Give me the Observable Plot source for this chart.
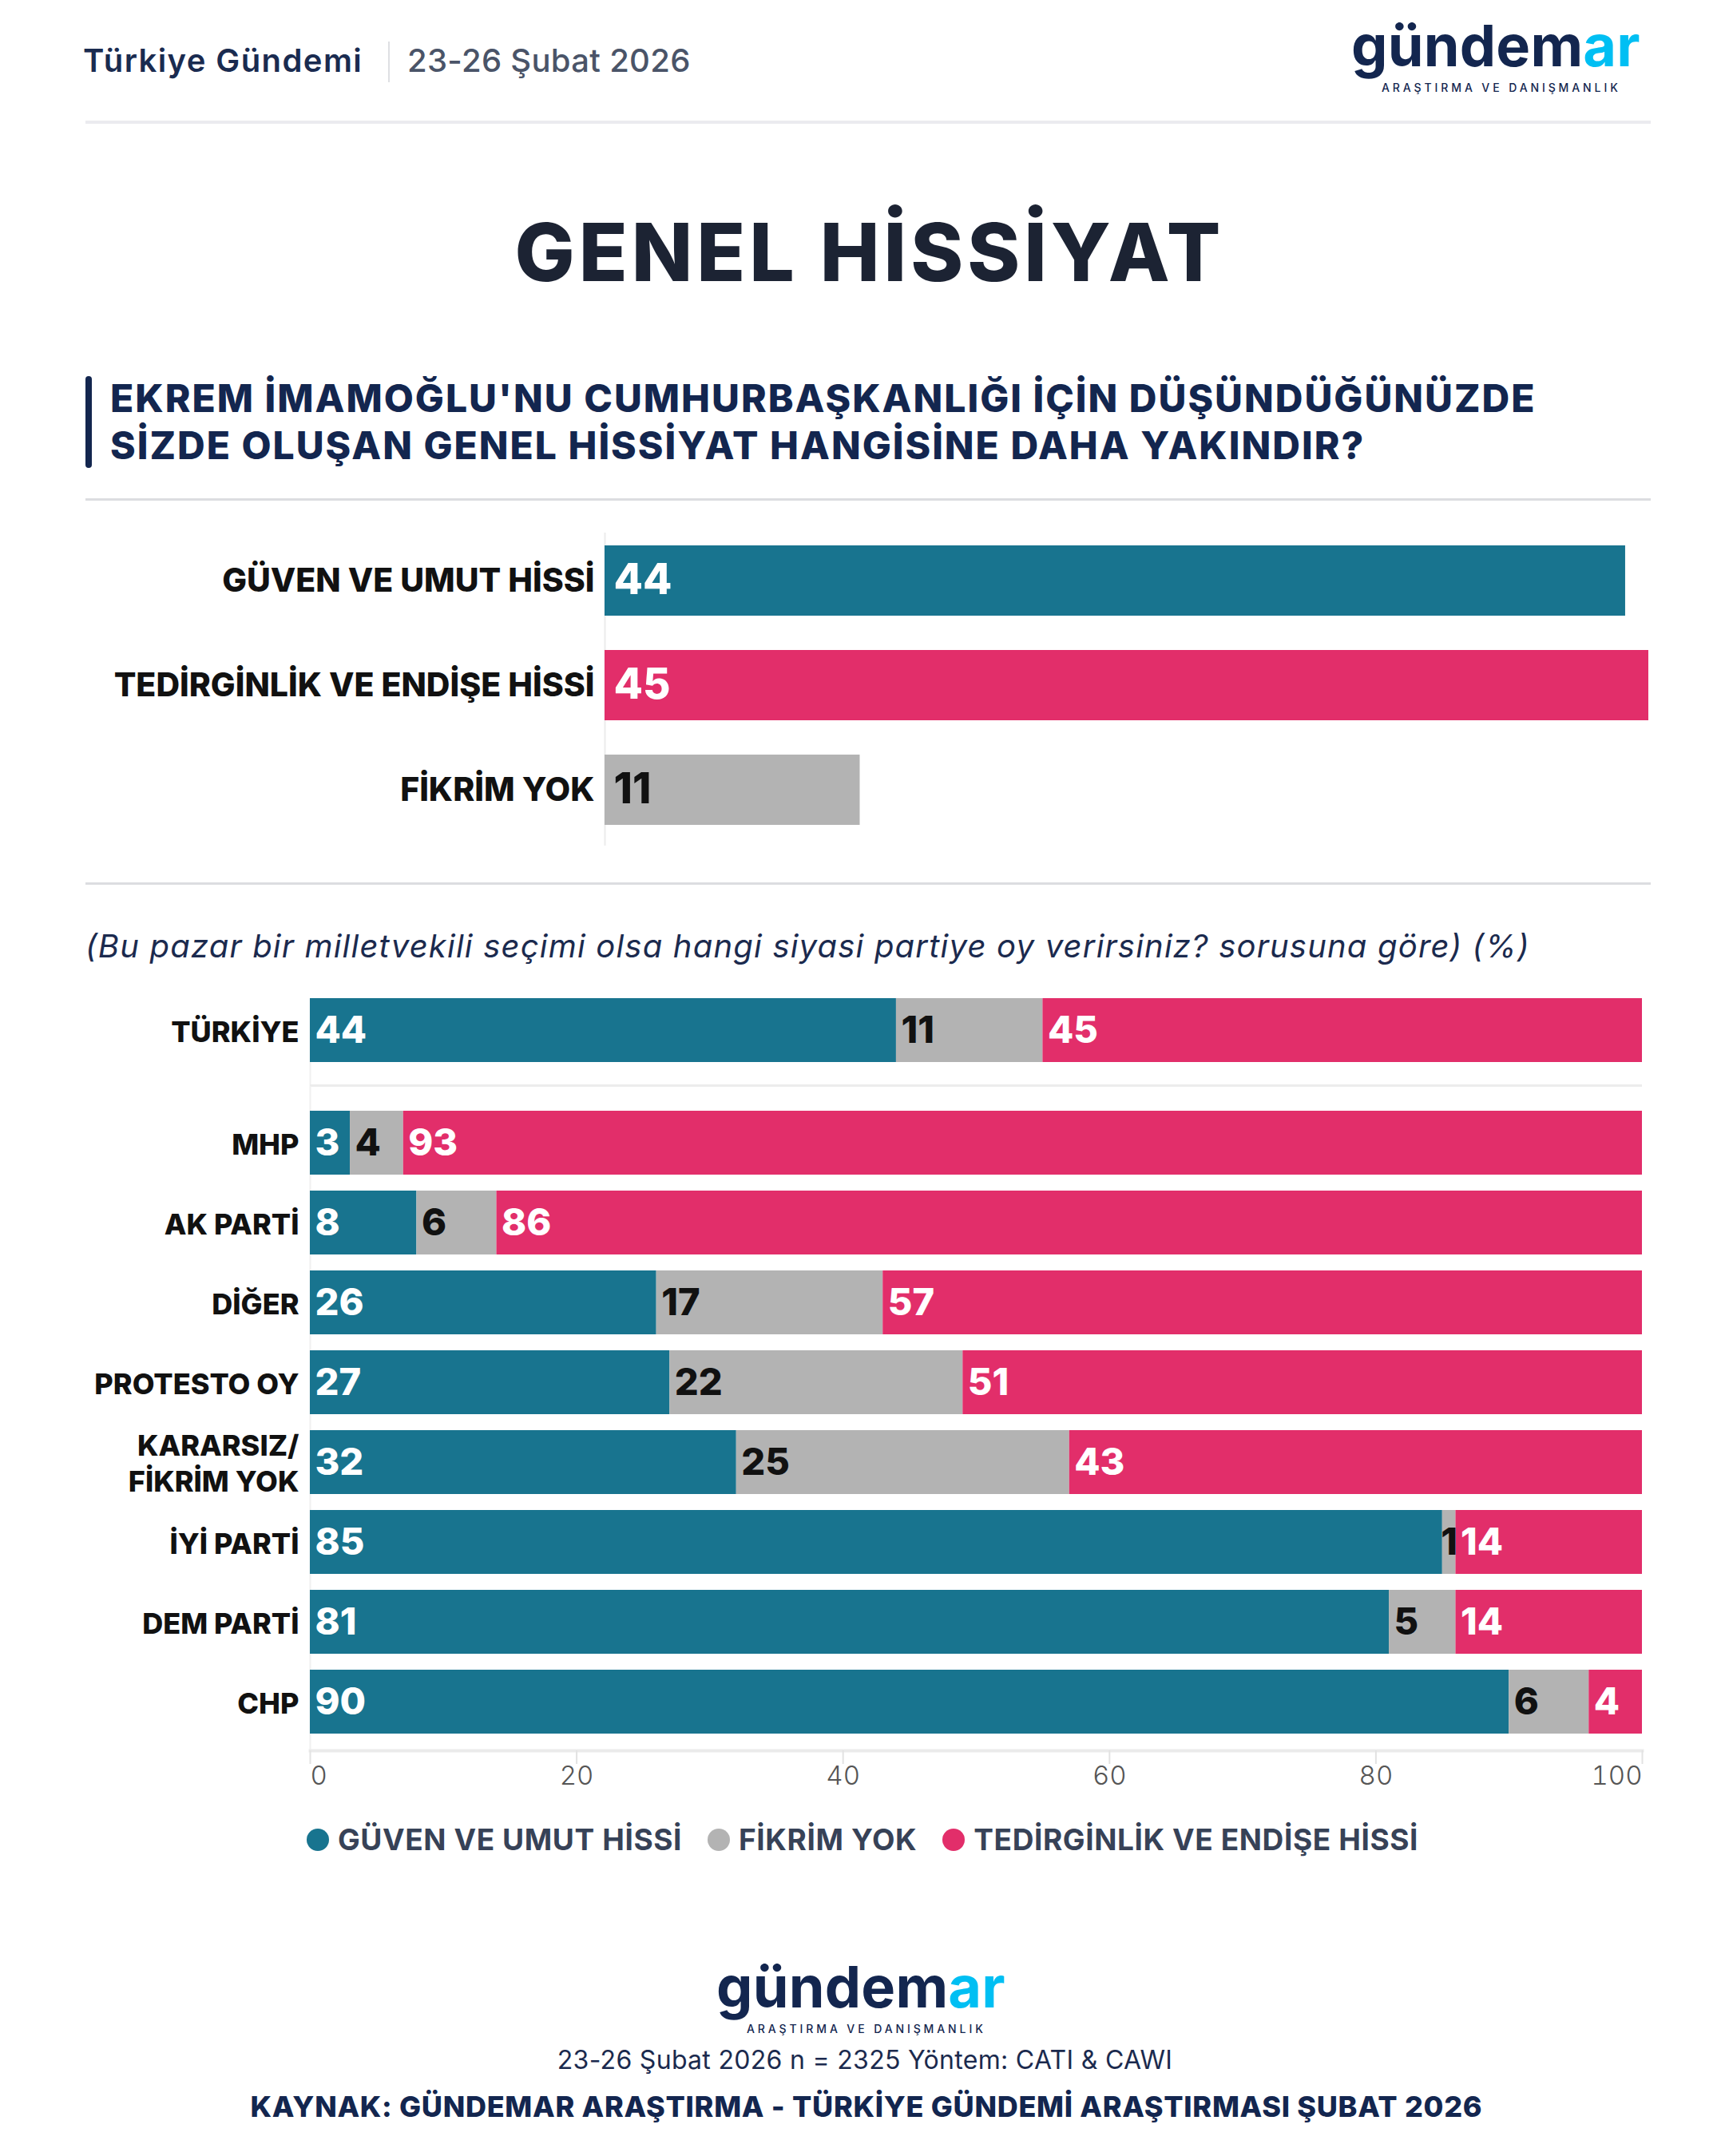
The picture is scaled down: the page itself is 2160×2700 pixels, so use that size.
<!DOCTYPE html>
<html><head><meta charset="utf-8">
<script src="https://cdn.jsdelivr.net/npm/d3@7"></script>
<script src="https://cdn.jsdelivr.net/npm/@observablehq/plot@0.6"></script>
<style>
html,body{margin:0;padding:0;background:#fff;}
#page{position:relative;width:2160px;height:2700px;overflow:hidden;font-family:Inter,"Open Sans",sans-serif;background:#fff;}
.abs{position:absolute;}
.logo{position:absolute;color:#13264f;}
.logo .word{font-family:Inter,sans-serif;font-weight:700;font-size:72px;letter-spacing:0.2px;line-height:1;}
.logo .ar{color:#00bff3;}
.logo .sub{font-family:Inter,sans-serif;font-weight:500;font-size:14px;letter-spacing:3.9px;white-space:nowrap;line-height:1;}
#legend{position:absolute;left:0;width:2160px;top:2281px;display:flex;justify-content:center;align-items:center;font-family:Inter,sans-serif;font-weight:700;font-size:37px;letter-spacing:0.6px;color:#374257;}
#legend .item{display:flex;align-items:center;margin:0 16px;}
#legend .dot{width:28px;height:28px;border-radius:50%;margin-right:11px;}
</style></head><body><div id="page"></div>
<script>
// ---------- data ----------
const feelings = ["GÜVEN VE UMUT HİSSİ", "TEDİRGİNLİK VE ENDİŞE HİSSİ", "FİKRİM YOK"];
const feelingValues = [44, 45, 11];
const stackOrder = ["GÜVEN VE UMUT HİSSİ", "FİKRİM YOK", "TEDİRGİNLİK VE ENDİŞE HİSSİ"];
const seriesColors = ["#18748f", "#b3b3b3", "#e22e6a"];
const totalRow = ["TÜRKİYE"];
const totalGuven = [44];
const totalFikrim = [11];
const totalTedirgin = [45];
const parties = ["MHP", "AK PARTİ", "DİĞER", "PROTESTO OY", "KARARSIZ/\nFİKRİM YOK", "İYİ PARTİ", "DEM PARTİ", "CHP"];
const guven = [3, 8, 26, 27, 32, 85, 81, 90];
const fikrimYok = [4, 6, 17, 22, 25, 1, 5, 6];
const tedirgin = [93, 86, 57, 51, 43, 14, 14, 4];
const xTicks = [0, 20, 40, 60, 80, 100];

const headerLeft = "Türkiye Gündemi";
const headerDate = "23-26 Şubat 2026";
const title = "GENEL HİSSİYAT";
const questionLines = ["EKREM İMAMOĞLU'NU CUMHURBAŞKANLIĞI İÇİN DÜŞÜNDÜĞÜNÜZDE", "SİZDE OLUŞAN GENEL HİSSİYAT HANGİSİNE DAHA YAKINDIR?"];
const subtitle = "(Bu pazar bir milletvekili seçimi olsa hangi siyasi partiye oy verirsiniz? sorusuna göre) (%)";
const footerMeta = "23-26 Şubat 2026 n = 2325 Yöntem: CATI & CAWI";
const footerSource = "KAYNAK: GÜNDEMAR ARAŞTIRMA - TÜRKİYE GÜNDEMİ ARAŞTIRMASI ŞUBAT 2026";

// ---------- page ----------
const page = d3.select("#page");
const NAVY = "#13264f";
const FONT = "Inter, 'Open Sans', sans-serif";

const ov = page.append("svg").attr("class","abs").attr("width",2160).attr("height",2700)
  .style("left","0px").style("top","0px").style("font-family",FONT);
ov.append("text").attr("x",104).attr("y",90).attr("font-size",40).attr("font-weight",600).attr("letter-spacing",1.4).attr("fill","#1a2b50").text(headerLeft);
ov.append("rect").attr("x",486).attr("y",52).attr("width",2).attr("height",51).attr("fill","#dedfe3");
ov.append("text").attr("x",510).attr("y",90).attr("font-size",40).attr("font-weight",500).attr("letter-spacing",0.3).attr("fill","#4a5468").text(headerDate);
ov.append("rect").attr("x",107).attr("y",151).attr("width",1960).attr("height",4).attr("fill","#ebebef");
ov.append("text").attr("x",1089).attr("y",352).attr("text-anchor","middle").attr("font-size",100).attr("font-weight",800).attr("letter-spacing",5).attr("fill","#1c2333").text(title);
ov.append("rect").attr("x",107).attr("y",471).attr("width",8).attr("height",115).attr("rx",4).attr("fill",NAVY);
questionLines.forEach((l,i)=>{
  ov.append("text").attr("x",138).attr("y",516+i*59).attr("font-size",48).attr("font-weight",800).attr("letter-spacing",2).attr("fill",NAVY).text(l);
});
ov.append("rect").attr("x",107).attr("y",624).attr("width",1960).attr("height",3).attr("fill","#dcdde0");
ov.append("rect").attr("x",107).attr("y",1105).attr("width",1960).attr("height",3).attr("fill","#dcdde0");
ov.append("text").attr("x",107).attr("y",1199).attr("font-size",40).attr("font-style","italic").attr("font-weight",400).attr("letter-spacing",1.2).attr("fill","#1b2a4e").text(subtitle);
ov.append("text").attr("x",1083).attr("y",2591).attr("text-anchor","middle").attr("font-size",32).attr("font-weight",400).attr("letter-spacing",0.3).attr("fill","#1b2a4e").text(footerMeta);
ov.append("text").attr("x",1085).attr("y",2651).attr("text-anchor","middle").attr("font-size",36).attr("font-weight",800).attr("letter-spacing",0.7).attr("fill",NAVY).text(footerSource);

function logo(left, baseline){
  const g = page.append("div").attr("class","logo").style("left",left+"px").style("top",(baseline-62)+"px");
  const w = g.append("div").attr("class","word");
  w.append("span").text("gündem");
  w.append("span").attr("class","ar").text("ar");
  g.append("div").attr("class","sub").style("margin-left","38px").style("margin-top","10px").text("ARAŞTIRMA VE DANIŞMANLIK");
}
logo(1692, 83);
logo(897, 2514);

// ---------- top chart ----------
const topData = feelings.map((f,i)=>({label:f, value:feelingValues[i]}));
const isDark = d => d.label === "FİKRİM YOK" || d.series === "FİKRİM YOK";
const topPlot = Plot.plot({
  width: 2160, height: 500,
  marginLeft: 757, marginRight: 96, marginTop: 40, marginBottom: 24,
  x: {domain: [0, d3.max(feelingValues)], axis: null},
  y: {domain: feelings, axis: null, padding: 0.328},
  color: {domain: stackOrder, range: seriesColors},
  style: {fontFamily: FONT, background: "transparent"},
  marks: [
    Plot.ruleX([0], {stroke: "#ececec", strokeWidth: 2, insetTop: 27, insetBottom: 17}),
    Plot.barX(topData, {x: "value", y: "label", fill: "label"}),
    Plot.text(topData, {frameAnchor: "left", y: "label", text: "label", textAnchor: "end", dx: -13, fontSize: 41, fontWeight: 800, letterSpacing: 0.8, fill: "#111"}),
    Plot.text(topData, {x: 0, y: "label", text: d => isDark(d) ? "" : String(d.value), textAnchor: "start", dx: 11, fontSize: 53, fontWeight: 800, fill: "#fff"}),
    Plot.text(topData, {x: 0, y: "label", text: d => isDark(d) ? String(d.value) : "", textAnchor: "start", dx: 11, fontSize: 53, fontWeight: 800, fill: "#111"})
  ]
});
page.append(()=>topPlot).attr("class","abs").style("left","0px").style("top","600px");

// ---------- stacked charts ----------
function longRows(cats, a, b, c){
  return cats.flatMap((cat,i)=>[
    {cat, series: stackOrder[0], value: a[i]},
    {cat, series: stackOrder[1], value: b[i]},
    {cat, series: stackOrder[2], value: c[i]}
  ]);
}
function stackMarks(rows){
  const base = {x: "value", y: "cat", z: "series", order: stackOrder};
  const lab = {fontSize: 47, fontWeight: 800};
  const show = (small, dark) => d => ((d.value < 3) === small && isDark(d) === dark) ? String(d.value) : "";
  return [
    Plot.barX(rows, Plot.stackX({...base, fill: "series"})),
    Plot.text(rows, Plot.stackX1({...base, ...lab, text: show(false, false), textAnchor: "start", dx: 6, fill: "#fff"})),
    Plot.text(rows, Plot.stackX1({...base, ...lab, text: show(false, true), textAnchor: "start", dx: 6, fill: "#111"})),
    Plot.text(rows, Plot.stackX({...base, ...lab, text: show(true, false), textAnchor: "middle", fill: "#fff"})),
    Plot.text(rows, Plot.stackX({...base, ...lab, text: show(true, true), textAnchor: "middle", fill: "#111"}))
  ];
}
const catLabel = {frameAnchor: "left", textAnchor: "end", dx: -14, fontSize: 36, fontWeight: 800, letterSpacing: 0.8, fill: "#111", lineHeight: 1.25};

const totalRows = longRows(totalRow, totalGuven, totalFikrim, totalTedirgin);
const totalPlot = Plot.plot({
  width: 2160, height: 140,
  marginLeft: 388, marginRight: 104, marginTop: 20, marginBottom: 40,
  x: {domain: [0, 100], axis: null},
  y: {domain: totalRow, axis: null, padding: 0},
  color: {domain: stackOrder, range: seriesColors},
  style: {fontFamily: FONT, background: "transparent"},
  marks: [
    Plot.ruleX([0], {stroke: "#f0f0f0", strokeWidth: 2, insetBottom: -30}),
    ...stackMarks(totalRows),
    Plot.text(totalRow, {...catLabel, y: d => d, text: d => d})
  ]
});
page.append(()=>totalPlot).attr("class","abs").style("left","0px").style("top","1230px");
page.append("div").attr("class","abs").style("left","388px").style("top","1358px").style("width","1668px").style("height","3px").style("background","#ececec");

const partyRows = longRows(parties, guven, fikrimYok, tedirgin);
const tickAnchor = t => t === d3.min(xTicks) ? "start" : t === d3.max(xTicks) ? "end" : "middle";
const partyPlot = Plot.plot({
  width: 2160, height: 910,
  marginLeft: 388, marginRight: 104, marginTop: 10, marginBottom: 78,
  x: {domain: [0, 100], axis: null},
  y: {domain: parties, axis: null, padding: 0.2},
  color: {domain: stackOrder, range: seriesColors},
  style: {fontFamily: FONT, background: "transparent"},
  marks: [
    Plot.ruleX([0], {stroke: "#f0f0f0", strokeWidth: 2, insetTop: -10}),
    ...stackMarks(partyRows),
    Plot.text(parties, {...catLabel, y: d => d, text: d => d}),
    Plot.frame({anchor: "bottom", stroke: "#ebebeb", strokeWidth: 4}),
    Plot.axisX(xTicks, {tickSize: 17, stroke: "#e2e2e2", strokeWidth: 2, tickFormat: () => "", label: null}),
    ...["start","middle","end"].map(a => Plot.text(xTicks.filter(t => tickAnchor(t) === a), {x: d => d, frameAnchor: "bottom", dy: 42, textAnchor: a, fontSize: 33, fontWeight: 300, fill: "#555"}))
  ]
});
page.append(()=>partyPlot).attr("class","abs").style("left","0px").style("top","1360px");

// ---------- legend ----------
const legend = page.append("div").attr("id","legend");
stackOrder.forEach((s,i)=>{
  const it = legend.append("div").attr("class","item");
  it.append("div").attr("class","dot").style("background", seriesColors[i]);
  it.append("span").text(s);
});
</script>
</body></html>
